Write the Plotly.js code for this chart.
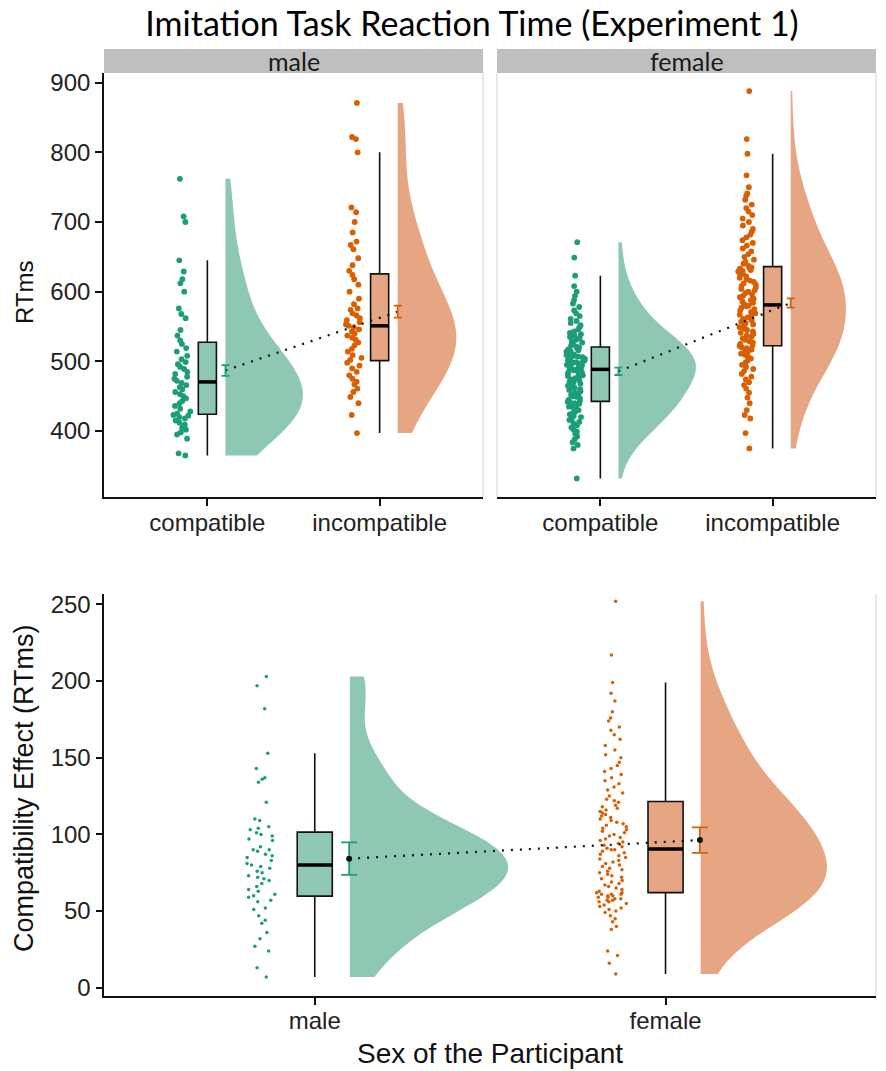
<!DOCTYPE html>
<html><head><meta charset="utf-8">
<script src="https://cdn.plot.ly/plotly-3.0.1.min.js"></script>
<style>html,body{margin:0;padding:0;background:#fff}#chart{width:886px;height:1071px}</style>
</head><body><div id="chart"></div>
<script>
// ---------------- data ----------------
const chartTitle = 'Imitation Task Reaction Time (Experiment 1)';
const conditions = ['compatible', 'incompatible'];
const sexes = ['male', 'female'];
const yTicksRT = [400, 500, 600, 700, 800, 900];
const yTicksEffect = [0, 50, 100, 150, 200, 250];

const maleCompatible = [365, 368, 389, 395, 398, 402, 405, 409, 412, 415, 418, 420, 422, 423, 425, 428, 432, 436, 440, 443, 447, 450, 453, 456, 460, 463, 466, 469, 472, 475, 478, 482, 485, 489, 492, 496, 499, 503, 508, 514, 519, 525, 530, 537, 545, 562, 568, 576, 600, 612, 618, 629, 645, 700, 708, 762];
const maleIncompatible = [397, 423, 440, 449, 456, 461, 467, 471, 475, 480, 485, 490, 494, 498, 502, 505, 509, 514, 518, 523, 527, 531, 534, 537, 540, 543, 546, 549, 551, 553, 556, 559, 562, 566, 569, 574, 576, 582, 590, 600, 610, 618, 624, 630, 638, 648, 661, 667, 672, 685, 700, 714, 721, 800, 819, 822, 871];
const femaleCompatible = [332, 375, 380, 384, 388, 392, 396, 399, 402, 405, 408, 411, 413, 416, 418, 420, 422, 424, 426, 428, 430, 432, 434, 435, 437, 438, 439, 440, 441, 442,
  443, 445, 447, 449, 450, 452, 454, 455, 457, 459, 460, 462, 463, 465, 467, 468, 470, 471, 473, 474, 476, 477, 479, 480, 482, 483, 484, 486, 487, 488,
  489, 490, 491, 493, 494, 495, 496, 497, 498, 499, 500, 501, 502, 503, 504, 505, 506, 507, 508, 509, 510, 511, 512, 513, 514, 515, 516, 517, 519, 520,
  521, 523, 525, 527, 529, 531, 533, 535, 537, 539, 541, 543, 546, 549, 552, 555, 558, 561, 565, 569, 573, 578, 583, 588, 594, 600, 608, 623, 649, 671];
const femaleIncompatible = [375, 397, 418, 423, 430, 440, 448, 455, 461, 466, 470, 474, 478, 482, 486, 489, 492, 495, 498, 501, 504, 506, 509, 511, 513, 515, 517, 519, 520, 522,
  523, 525, 527, 529, 531, 533, 535, 537, 539, 541, 543, 545, 547, 549, 551, 553, 555, 557, 559, 561, 563, 565, 567, 569, 571, 573, 575, 577, 579, 580,
  582, 584, 586, 588, 590, 592, 594, 596, 598, 600, 602, 604, 606, 608, 610, 612, 614, 616, 618, 620, 622, 624, 626, 627, 629, 630, 631, 633, 634, 635,
  637, 640, 643, 646, 650, 654, 658, 662, 666, 670, 674, 678, 682, 686, 690, 695, 700, 705, 710, 715, 720, 725, 732, 738, 741, 750, 767, 798, 819, 888];
const maleEffect = [7, 13, 24, 27, 32, 36, 42, 44, 47, 51, 52, 56, 57, 59, 60, 61, 63, 64, 66, 68, 70, 71, 72, 73, 75, 76, 78, 79, 80, 81, 83, 85, 86, 87, 89, 90, 90, 92, 96, 97, 99, 100, 101, 103, 104, 105, 109, 110, 121, 134, 136, 137, 143, 153, 182, 197, 203];
const femaleEffect = [9, 16, 21, 24, 38, 40, 43, 45, 47, 49, 50, 51, 52, 53, 54, 55, 56, 56, 57, 57, 58, 58, 59, 59, 60, 60, 61, 61, 61, 62,
  62, 63, 64, 65, 66, 67, 68, 69, 70, 71, 72, 73, 74, 75, 76, 77, 78, 79, 80, 81, 82, 83, 84, 85, 86, 87, 88, 89, 90, 90,
  91, 92, 93, 94, 95, 96, 97, 98, 99, 100, 101, 102, 103, 104, 105, 106, 107, 108, 109, 110, 111, 112, 113, 114, 115, 116, 117, 118, 119, 121,
  122, 123, 125, 127, 129, 131, 133, 135, 137, 139, 141, 143, 145, 147, 150, 152, 155, 158, 162, 165, 168, 170, 174, 176, 180, 187, 192, 199, 217, 252];

const meanRTMale = [487, 571.3];
const errRTMale = [7.7, 8.6];
const meanRTFemale = [485.7, 583.8];
const errRTFemale = [5.3, 6.7];
const meanEffect = [84.2, 96.3];
const errEffect = [10.6, 8.3];

// ---------------- style ----------------
const W = 886, H = 1071;
const COL = ['#1B9E77', '#D95F02'];
const FILL = ['rgb(142,200,178)', 'rgb(230,165,131)'];
const AXFONT = 'Liberation Sans, Arial, sans-serif';
const CALFONT = 'Lato, Open Sans, sans-serif';
const BW_SCALE = 1.45;
const px = x => x / W, py = y => 1 - y / H;

function quantile(a, p) {
  const s = a.slice().sort((u, v) => u - v);
  const h = (s.length - 1) * p, lo = Math.floor(h);
  return s[lo] + (h - lo) * ((s[Math.min(lo + 1, s.length - 1)]) - s[lo]);
}
function nrd0(a) {
  const n = a.length, m = a.reduce((s, v) => s + v, 0) / n;
  const sd = Math.sqrt(a.reduce((s, v) => s + (v - m) * (v - m), 0) / (n - 1));
  const iqr = quantile(a, 0.75) - quantile(a, 0.25);
  return 0.9 * Math.min(sd, iqr / 1.34) * Math.pow(n, -0.2);
}

const traces = [];
function addGroup(data, pos, ci, xa, ya, g) {
  // half violin (width attribute = full two-sided width)
  traces.push({type: 'violin', x0: pos + g.violinOff, y: data, xaxis: xa, yaxis: ya,
    side: 'positive', width: 2 * g.violinW, spanmode: 'hard', points: false, bandwidth: BW_SCALE * nrd0(data),
    fillcolor: FILL[ci], line: {width: 0, color: FILL[ci]}, hoverinfo: 'skip', showlegend: false,
    box: {visible: false}, meanline: {visible: false}});
  // jittered raw points
  traces.push({type: 'box', x0: pos + g.ptOff, y: data, xaxis: xa, yaxis: ya, width: g.ptSpread,
    boxpoints: 'all', jitter: 1, pointpos: 0, fillcolor: 'rgba(0,0,0,0)', line: {width: 0, color: 'rgba(0,0,0,0)'},
    whiskerwidth: 0, marker: {color: COL[ci], size: g.ptSize}, hoverinfo: 'y', showlegend: false});
  // box plot (1.5 IQR whiskers, outliers hidden)
  traces.push({type: 'box', x0: pos, y: data, xaxis: xa, yaxis: ya, width: g.boxW, boxpoints: 'outliers',
    marker: {opacity: 0, size: 1, color: 'rgba(0,0,0,0)'},
    fillcolor: FILL[ci], line: {width: 1.6, color: '#111'}, whiskerwidth: 0, hoverinfo: 'skip', showlegend: false});
  // thick median
  const med = quantile(data, 0.5);
  traces.push({type: 'scatter', mode: 'lines', x: [pos - g.boxW / 2, pos + g.boxW / 2], y: [med, med],
    xaxis: xa, yaxis: ya, line: {color: '#000', width: 3.5}, hoverinfo: 'skip', showlegend: false});
}
function addMeans(means, errs, xa, ya, g, showDot) {
  const xs = [1 + g.errOff, 2 + g.errOff];
  traces.push({type: 'scatter', mode: 'lines', x: xs, y: means, xaxis: xa, yaxis: ya,
    line: {color: '#111', width: 2.2, dash: '2px,7px'}, hoverinfo: 'skip', showlegend: false});
  for (let i = 0; i < 2; i++) {
    traces.push({type: 'scatter', mode: 'markers', x: [xs[i]], y: [means[i]], xaxis: xa, yaxis: ya,
      marker: {color: showDot ? '#111' : 'rgba(0,0,0,0)', size: showDot ? 6 : 1},
      error_y: {type: 'data', array: [errs[i]], color: COL[i], thickness: 1.8, width: g.capW},
      hoverinfo: 'y', showlegend: false});
  }
}

const gTop = {violinOff: 0.105, ptOff: -0.145, ptSpread: 0.11, boxW: 0.105, errOff: 0.105, ptSize: 5.8, capW: 4};
const gBot = {violinOff: 0.10, ptOff: -0.15, ptSpread: 0.10, boxW: 0.10, errOff: 0.098, ptSize: 3.5, capW: 8};

addGroup(maleCompatible, 1, 0, 'x', 'y', Object.assign({}, gTop, {violinW: 0.45}));
addGroup(maleIncompatible, 2, 1, 'x', 'y', Object.assign({}, gTop, {violinW: 0.34}));
addMeans(meanRTMale, errRTMale, 'x', 'y', gTop, false);
addGroup(femaleCompatible, 1, 0, 'x2', 'y2', Object.assign({}, gTop, {violinW: 0.45}));
addGroup(femaleIncompatible, 2, 1, 'x2', 'y2', Object.assign({}, gTop, {violinW: 0.32}));
addMeans(meanRTFemale, errRTFemale, 'x2', 'y2', gTop, false);
addGroup(maleEffect, 1, 0, 'x3', 'y3', Object.assign({}, gBot, {violinW: 0.45}));
addGroup(femaleEffect, 2, 1, 'x3', 'y3', Object.assign({}, gBot, {violinW: 0.36}));
addMeans(meanEffect, errEffect, 'x3', 'y3', gBot, true);

const axBase = {showgrid: false, zeroline: false, showline: true, linecolor: '#111', linewidth: 1.6,
  ticks: 'outside', ticklen: 7, tickwidth: 1.6, tickcolor: '#111', fixedrange: true,
  tickfont: {family: AXFONT, size: 24, color: '#222'}};
const xTickAdj = {ticklabelstandoff: -4};
const topY = [py(497), py(73)];
const botY = [py(995.7), py(594)];

const layout = {
  width: W, height: H, margin: {l: 0, r: 0, t: 0, b: 0}, paper_bgcolor: '#fff', plot_bgcolor: '#fff',
  showlegend: false, boxmode: 'overlay', violinmode: 'overlay',
  title: {text: chartTitle, x: px(472), xanchor: 'center', y: py(24), yanchor: 'middle',
    font: {family: CALFONT, size: 34, color: '#000'}},
  xaxis: Object.assign({}, axBase, xTickAdj, {domain: [px(104), px(483)], range: [0.4, 2.6], tickvals: [1, 2], ticktext: conditions, anchor: 'y'}),
  yaxis: Object.assign({}, axBase, {domain: topY, range: [305.3, 913.9], tickvals: yTicksRT, anchor: 'x'}),
  xaxis2: Object.assign({}, axBase, xTickAdj, {domain: [px(497), px(876)], range: [0.4, 2.6], tickvals: [1, 2], ticktext: conditions, anchor: 'y2'}),
  yaxis2: Object.assign({}, axBase, {domain: topY, range: [305.3, 913.9], tickvals: yTicksRT, anchor: 'x2',
    showline: false, ticks: '', showticklabels: false}),
  xaxis3: Object.assign({}, axBase, xTickAdj, {domain: [px(104.3), px(876)], range: [0.4, 2.6], tickvals: [1, 2], ticktext: sexes, anchor: 'y3'}),
  yaxis3: Object.assign({}, axBase, {domain: botY, range: [-5.2, 256.8], tickvals: yTicksEffect, anchor: 'x3'}),
  shapes: [
    {type: 'rect', xref: 'paper', yref: 'paper', x0: px(104), x1: px(483), y0: py(73), y1: py(49), fillcolor: '#BFBFBF', line: {width: 0}, layer: 'below'},
    {type: 'rect', xref: 'paper', yref: 'paper', x0: px(497), x1: px(876), y0: py(73), y1: py(49), fillcolor: '#BFBFBF', line: {width: 0}, layer: 'below'},
    {type: 'line', xref: 'paper', yref: 'paper', x0: px(483), x1: px(483), y0: py(73), y1: py(497), line: {color: '#D9D9D9', width: 1.2}},
    {type: 'line', xref: 'paper', yref: 'paper', x0: px(497), x1: px(497), y0: py(73), y1: py(497), line: {color: '#D9D9D9', width: 1.2}},
    {type: 'line', xref: 'paper', yref: 'paper', x0: px(876), x1: px(876), y0: py(73), y1: py(497), line: {color: '#D9D9D9', width: 1.2}},
    {type: 'line', xref: 'paper', yref: 'paper', x0: px(876), x1: px(876), y0: py(594), y1: py(995.7), line: {color: '#D9D9D9', width: 1.2}}
  ],
  annotations: [
    {text: sexes[0], xref: 'paper', yref: 'paper', x: px(293.5), y: py(61), showarrow: false, xanchor: 'center', yanchor: 'middle',
      font: {family: CALFONT, size: 25, color: '#1a1a1a'}},
    {text: sexes[1], xref: 'paper', yref: 'paper', x: px(686.5), y: py(61), showarrow: false, xanchor: 'center', yanchor: 'middle',
      font: {family: CALFONT, size: 25, color: '#1a1a1a'}},
    {text: 'RTms', xref: 'paper', yref: 'paper', x: px(25), y: py(292), showarrow: false, textangle: -90, xanchor: 'center', yanchor: 'middle',
      font: {family: AXFONT, size: 24, color: '#111'}},
    {text: 'Compatibility Effect (RTms)', xref: 'paper', yref: 'paper', x: px(24), y: py(788), showarrow: false, textangle: -90, xanchor: 'center', yanchor: 'middle',
      font: {family: AXFONT, size: 27, color: '#111'}},
    {text: 'Sex of the Participant', xref: 'paper', yref: 'paper', x: px(490), y: py(1053), showarrow: false, xanchor: 'center', yanchor: 'middle',
      font: {family: AXFONT, size: 28, color: '#111'}}
  ]
};

Plotly.newPlot('chart', traces, layout, {displayModeBar: false, responsive: false});
</script></body></html>
